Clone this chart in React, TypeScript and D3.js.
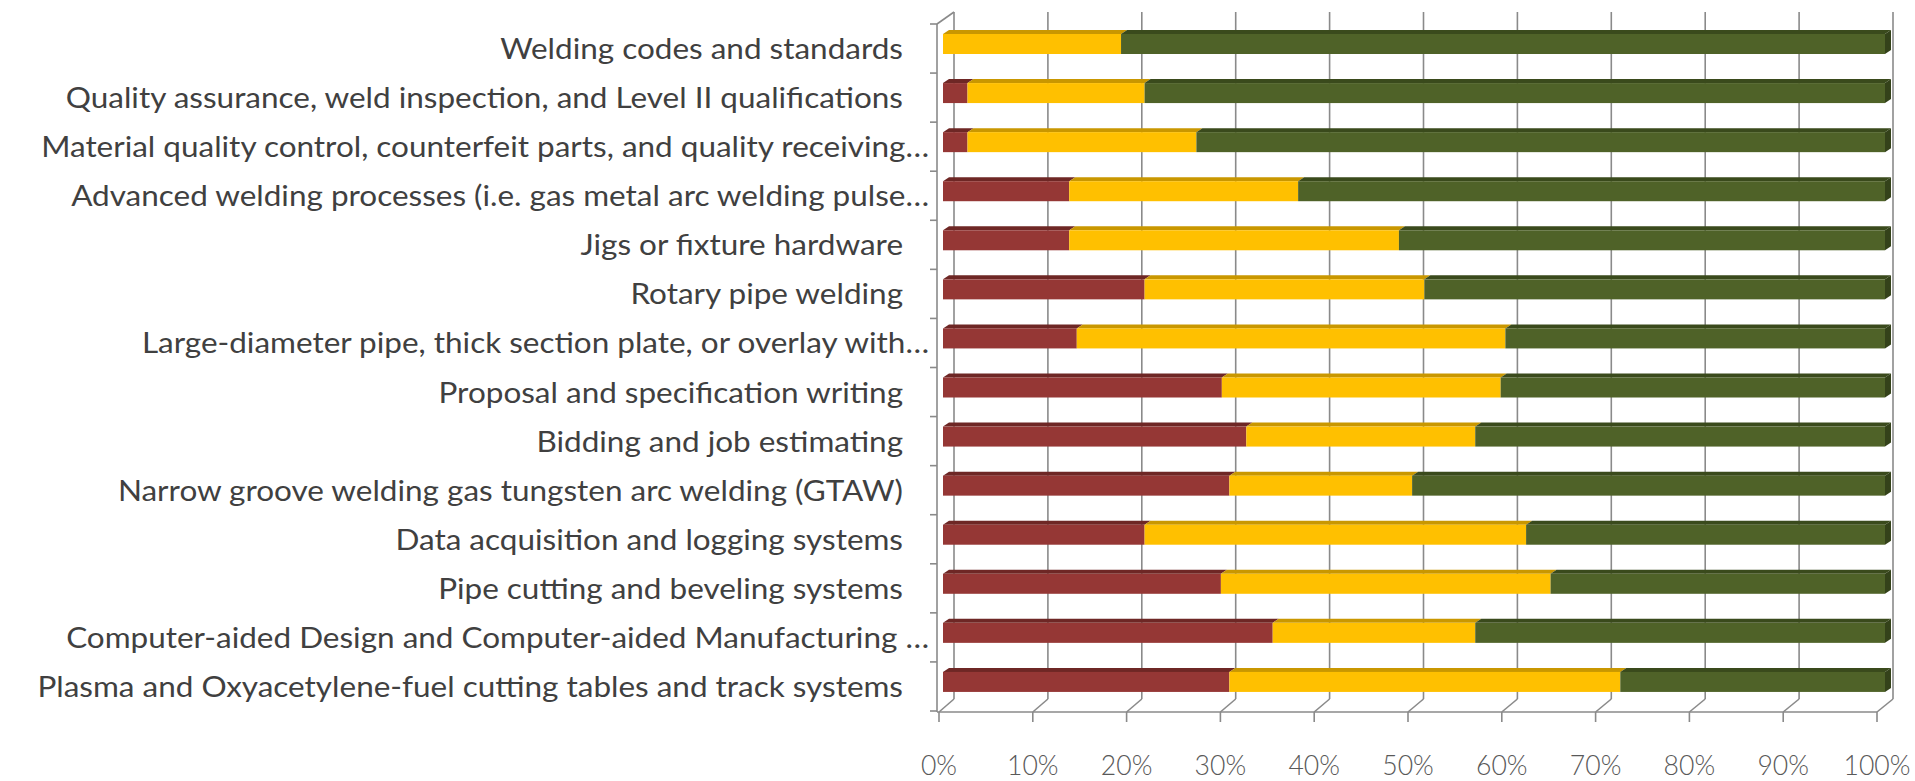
import React, { useMemo } from "react";
import * as d3 from "d3";

const categories = [
  "Welding codes and standards",
  "Quality assurance, weld inspection, and Level II qualifications",
  "Material quality control, counterfeit parts, and quality receiving…",
  "Advanced welding processes (i.e. gas metal arc welding pulse…",
  "Jigs or fixture hardware",
  "Rotary pipe welding",
  "Large-diameter pipe, thick section plate, or overlay with…",
  "Proposal and specification writing",
  "Bidding and job estimating",
  "Narrow groove welding gas tungsten arc welding (GTAW)",
  "Data acquisition and logging systems",
  "Pipe cutting and beveling systems",
  "Computer-aided Design and Computer-aided Manufacturing …",
  "Plasma and Oxyacetylene-fuel cutting tables and track systems",
];

const redValues = [0, 2.6, 2.6, 13.4, 13.4, 21.4, 14.2, 29.6, 32.2, 30.4, 21.4, 29.5, 35.0, 30.4];
const yellowValues = [18.9, 18.8, 24.3, 24.3, 35.0, 29.7, 45.5, 29.6, 24.3, 19.4, 40.5, 35.0, 21.5, 41.5];
const greenValues = [81.1, 78.6, 73.1, 62.3, 51.6, 48.9, 40.3, 40.8, 43.5, 50.2, 38.1, 35.5, 43.5, 28.1];

const seriesKeys = ["red", "yellow", "green"];
const xTickValues = [0, 10, 20, 30, 40, 50, 60, 70, 80, 90, 100];

const W = 1915;
const H = 781;

const palette: Record<string, { front: string; top: string; side: string }> = {
  red: { front: "#953735", top: "#6e2725", side: "#5c201e" },
  yellow: { front: "#FFC000", top: "#C99700", side: "#b08400" },
  green: { front: "#4F6228", top: "#3A4A1C", side: "#34421a" },
};

const LABEL_FONT = "Lato, 'Open Sans', sans-serif";

function measure(text: string, font: string): number {
  if (typeof document === "undefined") return text.length * 12;
  const ctx = document.createElement("canvas").getContext("2d");
  if (!ctx) return text.length * 12;
  ctx.font = font;
  return ctx.measureText(text).width;
}

export default function App() {
  const rows = categories.map((c, i) => ({
    category: c,
    red: redValues[i],
    yellow: yellowValues[i],
    green: greenValues[i],
  }));
  const stacked = d3.stack<any>().keys(seriesKeys)(rows);

  const xBar = d3.scaleLinear().domain([0, 100]).range([943, 1885]);
  const xFront = d3.scaleLinear().domain([0, 100]).range([939, 1877]);
  const xBack = d3.scaleLinear().domain([0, 100]).range([954, 1893]);
  const yBand = d3.scaleBand<string>().domain(categories).range([24, 711]).padding(0);

  const frontBottom = 712;
  const backBottom = 699;
  const backTop = 12;
  const frontTop = 24;
  const wallFrontX = 937;

  const barOffset = 10;
  const barH = 20;
  const dx = 6;
  const dy = 4;

  const ySize = 29;
  const xSize = 28;
  const { sy, sx } = useMemo(() => {
    const wy = measure("Welding codes and standards", `${ySize}px Lato`);
    const wx = measure("100%", `300 ${xSize}px Lato`);
    return { sy: 403 / wy, sx: 67 / wx };
  }, []);

  const fmt = (d: number) => `${d}%`;
  const bandBounds = d3.range(categories.length + 1).map((i) => frontTop + i * yBand.step());

  return (
    <svg
      width={W}
      height={H}
      style={{ position: "absolute", left: 0, top: 0, background: "#fff" }}
    >
      <rect x={0} y={0} width={W} height={H} fill="#fff" />
      {/* back wall gridlines */}
      <g stroke="#8a8a8a" strokeWidth={1.6}>
        {xTickValues.map((t) => (
          <line key={"g" + t} x1={xBack(t)} x2={xBack(t)} y1={backTop} y2={backBottom} />
        ))}
        {/* floor slants */}
        {xTickValues.map((t) => (
          <line key={"f" + t} x1={xFront(t)} x2={xBack(t)} y1={frontBottom} y2={backBottom} />
        ))}
        {/* floor front edge */}
        <line x1={wallFrontX} x2={xFront(100)} y1={frontBottom} y2={frontBottom} />
        {/* bottom ticks */}
        {xTickValues.map((t) => (
          <line key={"t" + t} x1={xFront(t)} x2={xFront(t)} y1={frontBottom} y2={frontBottom + 10} />
        ))}
        {/* left wall */}
        <line x1={wallFrontX} x2={wallFrontX} y1={frontTop} y2={frontBottom} />
        <line x1={wallFrontX} x2={xBack(0)} y1={frontTop} y2={backTop} />
        {bandBounds.map((b, i) => (
          <line key={"c" + i} x1={wallFrontX - 7} x2={wallFrontX} y1={b} y2={b} />
        ))}
      </g>

      {/* bars */}
      <g>
        {rows.map((r, i) => {
          const y = (yBand(r.category) as number) + barOffset;
          return (
            <g key={"bar" + i}>
              {stacked.map((s) => {
                const seg = s[i];
                const x0 = xBar(seg[0]);
                const x1 = xBar(seg[1]);
                if (x1 - x0 <= 0) return null;
                const c = palette[s.key];
                return (
                  <g key={s.key}>
                    <polygon
                      points={`${x0},${y} ${x0 + dx},${y - dy} ${x1 + dx},${y - dy} ${x1},${y}`}
                      fill={c.top}
                    />
                    <rect x={x0} y={y} width={x1 - x0} height={barH} fill={c.front} />
                  </g>
                );
              })}
              {(() => {
                const last = stacked[stacked.length - 1][i];
                const xe = xBar(last[1]);
                return (
                  <polygon
                    points={`${xe},${y} ${xe + dx},${y - dy} ${xe + dx},${y + barH - dy} ${xe},${y + barH}`}
                    fill={palette[seriesKeys[seriesKeys.length - 1]].side}
                  />
                );
              })()}
            </g>
          );
        })}
      </g>

      {/* category labels */}
      <g fill="#404040" fontFamily={LABEL_FONT} fontSize={ySize}>
        {categories.map((c) => {
          const yc = (yBand(c) as number) + yBand.bandwidth() / 2 - 1;
          const xe = c.endsWith("…") ? 929 : 903;
          return (
            <text
              key={c}
              transform={`translate(${xe},${yc}) scale(${sy},1)`}
              textAnchor="end"
              dominantBaseline="central"
            >
              {c}
            </text>
          );
        })}
      </g>

      {/* value axis labels */}
      <g fill="#595959" fontFamily={LABEL_FONT} fontSize={xSize} fontWeight={300}>
        {xTickValues.map((t) => (
          <text
            key={"l" + t}
            transform={`translate(${xFront(t)},${775}) scale(${sx},1)`}
            textAnchor="middle"
          >
            {fmt(t)}
          </text>
        ))}
      </g>
    </svg>
  );
}
